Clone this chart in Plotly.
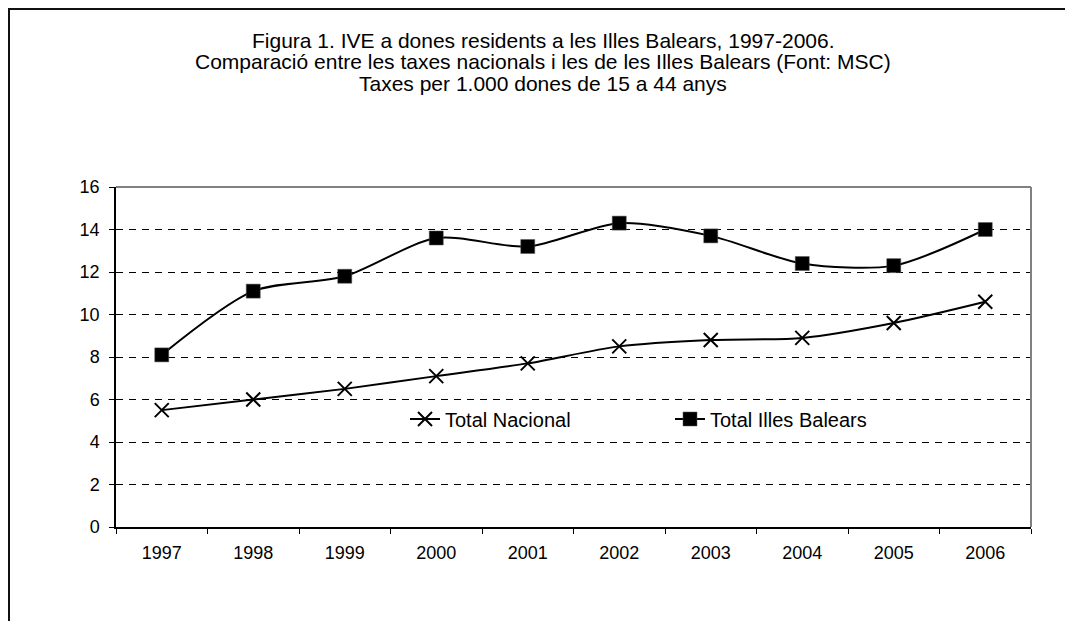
import plotly.graph_objects as go

years = ["1997", "1998", "1999", "2000", "2001", "2002", "2003", "2004", "2005", "2006"]
nacional = [5.5, 6.0, 6.5, 7.1, 7.7, 8.5, 8.8, 8.9, 9.6, 10.6]
balears = [8.1, 11.1, 11.8, 13.6, 13.2, 14.3, 13.7, 12.4, 12.3, 14.0]
y_ticks = [0, 2, 4, 6, 8, 10, 12, 14, 16]

title_lines = [
    "Figura 1. IVE a dones residents a les Illes Balears, 1997-2006.",
    "Comparació entre les taxes nacionals i les de les Illes Balears (Font: MSC)",
    "Taxes per 1.000 dones de 15 a 44 anys",
]

FONT = "Arial, Liberation Sans, sans-serif"
W, H = 1073, 621
OFF = 8  # page body margin
L, R, T, B = 116 - OFF, 1073 - (1031 - OFF), 187 - OFF, 621 - (527 - OFF)
pw, ph = W - L - R, H - T - B

def px_x(p):
    return (p - OFF - L) / pw

def px_y(p):
    return (H - B - (p - OFF)) / ph

fig = go.Figure()
fig.add_trace(go.Scatter(
    x=years, y=nacional, name="Total Nacional", mode="lines+markers",
    line=dict(color="black", width=2, shape="spline", smoothing=0.8),
    marker=dict(symbol="x-thin-open", size=14, color="black", line=dict(width=2, color="black")),
))
fig.add_trace(go.Scatter(
    x=years, y=balears, name="Total Illes Balears", mode="lines+markers",
    line=dict(color="black", width=2, shape="spline", smoothing=0.8),
    marker=dict(symbol="square", size=14, color="black", line=dict(width=0.5, color="#555")),
))

fig.update_layout(
    width=W, height=H,
    margin=dict(l=L, r=R, t=T, b=B),
    paper_bgcolor="white", plot_bgcolor="white",
    font=dict(family=FONT, size=18, color="black"),
    showlegend=True,
    legend=dict(
        orientation="h", x=px_x(405), y=px_y(419), xanchor="left", yanchor="middle",
        font=dict(family=FONT, size=20, color="black"),
        bgcolor="rgba(0,0,0,0)", entrywidth=220, entrywidthmode="pixels",
    ),
    xaxis=dict(
        type="category", range=[-0.5, 9.5], tickson="boundaries",
        ticks="outside", ticklen=5, tickcolor="black", tickwidth=1,
        showgrid=False, showline=True, linecolor="black", linewidth=2,
        mirror=False, tickfont=dict(size=18), zeroline=False, ticklabelstandoff=8,
    ),
    yaxis=dict(
        range=[0, 16], tickvals=y_ticks, ticks="outside", ticklen=5, tickcolor="black",
        showline=True, linecolor="black", linewidth=1.5,
        showgrid=True, gridcolor="black", gridwidth=1, griddash="7px,6px",
        zeroline=False, tickfont=dict(size=18), ticklabelstandoff=6,
    ),
)

# plot area border (top/right gray)
fig.add_shape(type="line", xref="paper", yref="paper", x0=0, x1=1, y0=1, y1=1,
              line=dict(color="#808080", width=2))
fig.add_shape(type="line", xref="paper", yref="paper", x0=1, x1=1, y0=0, y1=1,
              line=dict(color="#808080", width=2))

# outer chart frame
fig.add_shape(type="rect", xref="paper", yref="paper",
              x0=px_x(9), x1=px_x(1100), y0=px_y(660), y1=px_y(9),
              line=dict(color="#111", width=2), layer="below")

for i, txt in enumerate(title_lines):
    fig.add_annotation(
        text=txt, xref="paper", yref="paper", x=px_x(543), y=px_y(40 + 22 * i),
        xanchor="center", yanchor="middle", showarrow=False,
        font=dict(family=FONT, size=21, color="black"),
    )

fig.write_html("out.html")
